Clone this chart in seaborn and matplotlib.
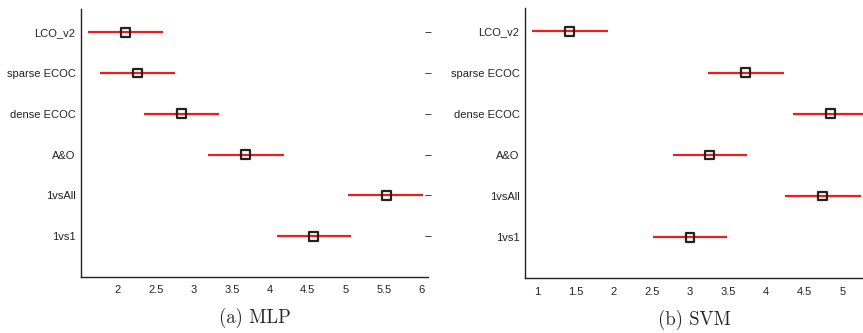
import pandas as pd
import matplotlib
matplotlib.use("Agg")
import matplotlib.pyplot as plt
import seaborn as sns

# method names, top to bottom
methods = ["LCO_v2", "sparse ECOC", "dense ECOC", "A&O", "1vsAll", "1vs1"]

# MLP: mean rank and interval ends
mlp_mean = [2.10, 2.26, 2.84, 3.68, 5.53, 4.57]
mlp_lo = [1.61, 1.77, 2.35, 3.19, 5.03, 4.09]
mlp_hi = [2.60, 2.75, 3.33, 4.18, 6.01, 5.07]

# SVM: mean rank and interval ends
svm_mean = [1.42, 3.73, 4.84, 3.26, 4.74, 3.00]
svm_lo = [0.93, 3.24, 4.35, 2.77, 4.24, 2.51]
svm_hi = [1.92, 4.23, 5.33, 3.75, 5.24, 3.49]

mlp_ticks = [2, 2.5, 3, 3.5, 4, 4.5, 5, 5.5, 6]
svm_ticks = [1, 1.5, 2, 2.5, 3, 3.5, 4, 4.5, 5]

sns.set_style("white")
plt.rcParams["font.family"] = ["Liberation Sans", "DejaVu Sans"]

fig = plt.figure(figsize=(8.63, 3.33), dpi=100)
ax1 = fig.add_axes([0.0939, 0.168, 0.402, 0.805])
ax2 = fig.add_axes([0.6083, 0.164, 0.3917, 0.812])


def draw(ax, mean, lo, hi, xlim, ticks, caption, right_ticks):
    ypos = list(range(len(methods), 0, -1))
    df = pd.DataFrame({"method": methods, "y": ypos, "mean": mean, "lo": lo, "hi": hi})
    ax.hlines(df["y"], df["lo"], df["hi"], color="#ee1c1c", lw=1.6, zorder=2)
    sns.scatterplot(data=df, x="mean", y="y", ax=ax, marker="s", s=40,
                    facecolor="none", edgecolor="#222222", linewidth=1.6, zorder=3)
    ax.set_xlim(*xlim)
    ax.set_ylim(0, len(methods) + 0.57)
    ax.set_yticks(ypos)
    ax.set_yticklabels(methods)
    ax.set_xticks(ticks)
    ax.set_xticklabels([f"{t:g}" for t in ticks])
    ax.set_xlabel("")
    ax.set_ylabel("")
    for side in ["top", "right"]:
        ax.spines[side].set_visible(False)
    for side in ["left", "bottom"]:
        ax.spines[side].set_color("#222222")
        ax.spines[side].set_linewidth(1.0)
    ax.tick_params(axis="x", direction="in", length=3, width=0.6, labelsize=8,
                   colors="#222222", pad=6)
    ax.tick_params(axis="y", direction="inout", length=4, width=0.6, labelsize=8,
                   colors="#222222", pad=2, right=right_ticks)
    ax.set_facecolor("white")
    ax.text(0.5, -0.115, caption, transform=ax.transAxes, ha="center", va="top",
            fontsize=13.5, family="cmr10")


draw(ax1, mlp_mean, mlp_lo, mlp_hi, (1.517, 6.08), mlp_ticks, "(a) MLP", True)
draw(ax2, svm_mean, svm_lo, svm_hi, (0.833, 5.27), svm_ticks, "(b) SVM", False)

fig.savefig("out.png", dpi=100)
plt.close(fig)
